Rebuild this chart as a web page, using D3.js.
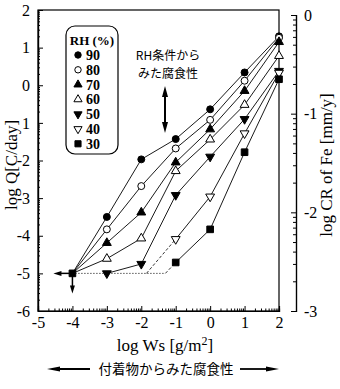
<!DOCTYPE html>
<html><head><meta charset="utf-8">
<script src="https://cdn.jsdelivr.net/npm/d3@7"></script>
<style>body{margin:0;background:#fff}svg{display:block}</style>
</head><body><svg id="c" width="340" height="389"></svg>
<script>
// ---- data ----
const xTicks=[-5,-4,-3,-2,-1,0,1,2];
const xTickLabels=["-5","-4","-3","-2","-1","0","1","2"];
const yTicks=[2,1,0,-1,-2,-3,-4,-5,-6];
const yTickLabels=["2","1","0","1","-2","-3","-4","-5","-6"];
const yRTicks=[0,-1,-2,-3];
const yRTickLabels=["0","-1","-2","-3"];
const rhLevels=["90","80","70","60","50","40","30"];
const logWs=[-3,-2,-1,0,1,2];
const q90=[-3.50,-1.97,-1.43,-0.64,0.34,1.30];
const q80=[-3.83,-2.68,-1.68,-0.92,0.12,1.26];
const q70=[-4.19,-3.38,-2.05,-1.17,-0.15,1.15];
const q60=[-4.61,-4.07,-2.28,-1.44,-0.52,0.78];
const q50=[-5.00,-4.75,-2.92,-1.90,-0.90,0.38];
const q40=[null,null,-4.09,-2.96,-1.28,0.33];
const q30=[null,null,-4.71,-3.83,-1.78,0.16];
const limitPoint=[-4,-5];
const onset40=-1.85, onset30=-1.3;

const serif='"Liberation Serif","Times New Roman",serif';
const cjk='"Noto Sans CJK JP",sans-serif';
const svg=d3.select("#c");
const x=d3.scaleLinear().domain([-5,2]).range([38,279]);
const y=d3.scaleLinear().domain([-6,2]).range([311,10]);
const yR=d3.scaleLinear().domain([-3,0]).range([311,15]);

function logMinor(lo,hi){const r=[];for(let n=lo;n<hi;n++)for(let k=2;k<=9;k++)r.push(n+Math.log10(k));return r;}

// frame
const g=svg.append("g");
g.append("rect").attr("x",x(-5)).attr("y",y(2)).attr("width",x(2)-x(-5)).attr("height",y(-6)-y(2))
 .attr("fill","none").attr("stroke","#000").attr("stroke-width",1.2);

// bottom axis
g.append("g").attr("transform",`translate(0,${y(-6)})`)
 .call(d3.axisBottom(x).tickValues(xTicks).tickSize(-5).tickPadding(6).tickFormat((d,i)=>xTickLabels[i]));
g.append("g").attr("transform",`translate(0,${y(-6)})`)
 .call(d3.axisBottom(x).tickValues(logMinor(-5,2)).tickSize(-2.5).tickFormat(""));
// left axis
g.append("g").attr("transform",`translate(${x(-5)},0)`)
 .call(d3.axisLeft(y).tickValues(yTicks).tickSize(-5).tickPadding(8).tickFormat((d,i)=>yTickLabels[i]));
g.append("g").attr("transform",`translate(${x(-5)},0)`)
 .call(d3.axisLeft(y).tickValues(logMinor(-6,2)).tickSize(-2).tickFormat(""));
// right axis
const rx=296;
g.append("g").attr("transform",`translate(${rx},0)`)
 .call(d3.axisRight(yR).tickValues(yRTicks).tickSize(-5).tickPadding(8).tickFormat((d,i)=>yRTickLabels[i]));
g.append("g").attr("transform",`translate(${rx},0)`)
 .call(d3.axisRight(yR).tickValues(logMinor(-3,0)).tickSize(-3).tickFormat(""));
svg.selectAll(".domain").attr("stroke","#000").attr("stroke-width",1.2);
svg.selectAll(".tick line").attr("stroke","#000");
svg.selectAll(".tick text").attr("font-family",serif).attr("font-size",16).attr("fill","#000");

// axis titles
const xl=svg.append("text").attr("x",165).attr("y",351).attr("text-anchor","middle")
 .attr("font-family",serif).attr("font-size",17);
xl.append("tspan").text("log Ws [g/m");
xl.append("tspan").attr("dy",-6).attr("font-size",12).text("2");
xl.append("tspan").attr("dy",6).text("]");
svg.append("text").attr("transform","translate(17,165) rotate(-90)").attr("text-anchor","middle")
 .attr("font-family",serif).attr("font-size",17).text("log Q[C/day]");
svg.append("text").attr("transform","translate(332,165) rotate(-90)").attr("text-anchor","middle")
 .attr("font-family",serif).attr("font-size",17).text("log CR of Fe [mm/y]");

// lines
const line=d3.line().x(d=>x(d[0])).y(d=>y(d[1]));
const series=[q90,q80,q70,q60,q50,q40,q30];
const pts=s=>logWs.map((w,i)=>[w,s[i]]).filter(d=>d[1]!==null);
svg.append("path").attr("d",line([limitPoint,[onset30,-5]])).attr("fill","none")
 .attr("stroke","#000").attr("stroke-width",1).attr("stroke-dasharray","1,2");
[[onset40,q40],[onset30,q30]].forEach(([o,s])=>{
 const p=pts(s)[0];
 svg.append("path").attr("d",line([[o,-5],p])).attr("fill","none").attr("stroke","#000")
  .attr("stroke-width",0.8).attr("stroke-dasharray","3,2");
});
series.forEach((s,i)=>{
 let p=pts(s);
 if(i<4) p=[limitPoint].concat(p);
 svg.append("path").attr("d",line(p)).attr("fill","none").attr("stroke","#000").attr("stroke-width",0.9);
});

// markers
const shapes=[
 {t:d3.symbolCircle,s:38,f:"#000",r:0},
 {t:d3.symbolCircle,s:38,f:"#fff",r:0},
 {t:d3.symbolTriangle,s:34,f:"#000",r:0},
 {t:d3.symbolTriangle,s:34,f:"#fff",r:0},
 {t:d3.symbolTriangle,s:34,f:"#000",r:180},
 {t:d3.symbolTriangle,s:34,f:"#fff",r:180},
 {t:d3.symbolSquare,s:44,f:"#000",r:0}];
function mark(sel,k,px,py,scale=1){
 const sh=shapes[k];
 sel.append("path").attr("d",d3.symbol().type(sh.t).size(sh.s*scale)())
  .attr("transform",`translate(${px},${py}) rotate(${sh.r})`)
  .attr("fill",sh.f).attr("stroke","#000").attr("stroke-width",1);
}
series.forEach((s,i)=>pts(s).forEach(d=>mark(svg,i,x(d[0]),y(d[1]))));

// limit point with arrows
const lx=x(limitPoint[0]), ly=y(limitPoint[1]);
svg.append("line").attr("x1",lx).attr("y1",ly).attr("x2",lx-14).attr("y2",ly).attr("stroke","#000").attr("stroke-width",1.5);
svg.append("path").attr("d",`M${lx-19},${ly}L${lx-11},${ly-2.5}L${lx-11},${ly+2.5}Z`).attr("fill","#000");
svg.append("line").attr("x1",lx).attr("y1",ly).attr("x2",lx).attr("y2",ly+14).attr("stroke","#000").attr("stroke-width",1.5);
svg.append("path").attr("d",`M${lx},${ly+20}L${lx-2.5},${ly+12}L${lx+2.5},${ly+12}Z`).attr("fill","#000");
mark(svg,6,lx,ly);

// legend
const lg=svg.append("g");
lg.append("rect").attr("x",66).attr("y",26).attr("width",52).attr("height",128).attr("rx",9)
 .attr("fill","#fff").attr("stroke","#000").attr("stroke-width",1.2);
lg.append("text").attr("x",92).attr("y",45).attr("text-anchor","middle").attr("font-family",serif)
 .attr("font-weight","bold").attr("font-size",13).text("RH (%)");
rhLevels.forEach((r,i)=>{
 const yy=55+i*14.8;
 mark(lg,i,78,yy,0.85);
 lg.append("text").attr("x",86).attr("y",yy+5).attr("font-family",serif).attr("font-weight","bold")
  .attr("font-size",14).text(r);
});

// RH annotation
svg.append("text").attr("x",168).attr("y",60).attr("text-anchor","middle").attr("font-family",cjk)
 .attr("font-size",12).text("RH条件から");
svg.append("text").attr("x",168).attr("y",78).attr("text-anchor","middle").attr("font-family",cjk)
 .attr("font-size",12).text("みた腐食性");
svg.append("line").attr("x1",165).attr("y1",94).attr("x2",165).attr("y2",125).attr("stroke","#000").attr("stroke-width",2);
svg.append("path").attr("d","M165,86L162,97L168,97Z").attr("fill","#000");
svg.append("path").attr("d","M165,133L162,122L168,122Z").attr("fill","#000");

// bottom caption
svg.append("text").attr("x",166).attr("y",374).attr("text-anchor","middle").attr("font-family",cjk)
 .attr("font-size",13.5).text("付着物からみた腐食性");
svg.append("line").attr("x1",56).attr("y1",369).attr("x2",90).attr("y2",369).attr("stroke","#000").attr("stroke-width",1.8);
svg.append("path").attr("d","M47,369L60,366.5L60,371.5Z").attr("fill","#000");
svg.append("line").attr("x1",240).attr("y1",369).attr("x2",270).attr("y2",369).attr("stroke","#000").attr("stroke-width",1.8);
svg.append("path").attr("d","M279,369L266,366.5L266,371.5Z").attr("fill","#000");
</script></body></html>
